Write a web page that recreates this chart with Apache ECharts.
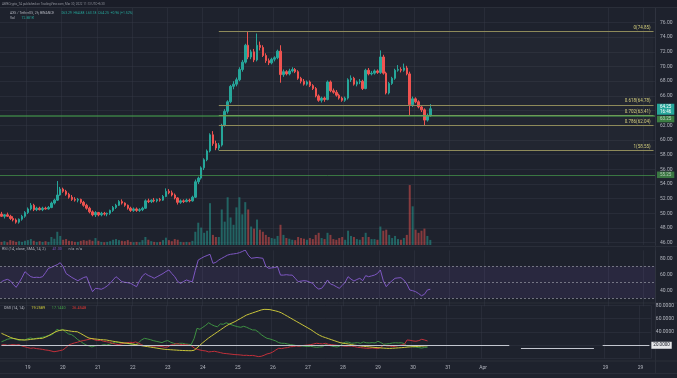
<!DOCTYPE html>
<html><head><meta charset="utf-8">
<script src="https://cdn.jsdelivr.net/npm/echarts@6/dist/echarts.min.js"></script>
<style>html,body{margin:0;padding:0;background:#1e222d;}#c{width:677px;height:378px;}</style>
</head><body><div id="c"></div><script>
// ---- data (AXS/USDT 2h candles) ----
const opens = [49.9,49.6,49.8,49.6,49.3,49.1,48.8,49.2,49.6,50.1,
50.6,51.1,50.5,50.7,50.5,50.7,50.6,50.8,51.4,51.8,
52.5,53.3,53.0,52.6,52.2,51.9,51.8,51.9,51.5,51.1,
50.7,50.2,49.8,50.1,49.8,50.0,49.9,50.0,50.4,50.8,
51.1,51.6,51.4,51.1,50.7,50.4,50.6,50.4,50.5,50.7,
51.7,51.6,51.8,51.7,51.9,51.8,52.3,53.0,52.8,52.5,
52.1,51.5,51.7,51.6,51.8,51.7,52.2,54.3,54.8,56.2,
57.3,58.5,60.7,59.5,58.9,59.3,62.0,63.9,65.2,67.3,
67.6,68.2,69.6,70.6,72.9,71.3,72.0,70.9,72.9,72.6,
71.5,70.8,70.5,71.0,71.2,72.1,68.9,69.3,69.0,69.4,
69.6,69.3,68.4,68.0,67.6,67.9,67.4,67.0,66.0,65.4,
65.7,65.5,67.9,66.7,66.5,66.1,65.7,65.4,65.7,68.2,
68.4,67.6,67.9,68.0,67.0,69.5,69.0,69.1,69.4,69.2,
71.3,69.1,66.4,67.7,68.4,69.5,69.6,69.5,69.8,69.0,
64.8,65.6,65.2,64.5,64.1,62.7,63.29];
const closes = [49.6,49.8,49.6,49.3,49.1,48.8,49.2,49.6,50.1,50.6,
51.1,50.5,50.7,50.5,50.7,50.6,50.8,51.4,51.8,52.5,
53.3,53.0,52.6,52.2,51.9,51.8,51.9,51.5,51.1,50.7,
50.2,49.8,50.1,49.8,50.0,49.9,50.0,50.4,50.8,51.1,
51.6,51.4,51.1,50.7,50.4,50.6,50.4,50.5,50.7,51.7,
51.6,51.8,51.7,51.9,51.8,52.3,53.0,52.8,52.5,52.1,
51.5,51.7,51.6,51.8,51.7,52.2,54.3,54.8,56.2,57.3,
58.5,60.7,59.5,58.9,59.3,62.0,63.9,65.2,67.3,67.6,
68.2,69.6,70.6,72.9,71.3,72.0,70.9,72.9,72.6,71.5,
70.8,70.5,71.0,71.2,72.1,68.9,69.3,69.0,69.4,69.6,
69.3,68.4,68.0,67.6,67.9,67.4,67.0,66.0,65.4,65.7,
65.5,67.9,66.7,66.5,66.1,65.7,65.4,65.7,68.2,68.4,
67.6,67.9,68.0,67.0,69.5,69.0,69.1,69.4,69.2,71.3,
69.1,66.4,67.7,68.4,69.5,69.6,69.5,69.8,69.0,64.8,
65.6,65.2,64.5,64.1,62.7,63.3,64.25];
const highs = [50.2,49.9,50.1,49.8,49.6,49.3,49.3,49.8,50.3,50.8,
51.4,51.3,50.9,50.9,50.9,50.9,51.0,51.6,52.0,54.4,
53.6,53.5,53.2,52.8,52.5,52.2,52.1,52.0,51.7,51.3,
50.9,50.4,50.3,50.2,50.2,50.2,50.1,50.5,51.0,51.3,
51.8,51.9,51.5,51.2,50.9,50.8,50.8,50.7,50.9,51.9,
52.0,51.9,52.1,52.0,52.1,52.5,53.4,53.3,53.1,52.7,
52.2,51.9,51.9,52.0,52.0,52.4,54.6,55.0,56.4,57.5,
58.7,60.9,61.2,59.9,59.6,62.2,64.2,65.4,67.5,68.0,
68.5,69.9,70.9,73.1,74.75,72.3,72.4,74.5,73.4,72.9,
71.8,71.1,71.2,71.4,72.3,72.9,69.6,69.5,69.7,69.9,
69.8,69.5,68.6,68.3,68.1,68.1,67.6,67.2,66.2,65.9,
65.9,68.1,68.1,67.0,66.8,66.3,65.9,65.9,68.4,68.8,
68.6,68.1,68.3,68.2,69.7,69.8,69.4,69.6,69.6,72.2,
71.6,69.3,67.9,68.6,69.7,70.2,69.9,70.4,70.1,69.3,
65.9,65.8,65.4,64.7,64.3,63.6,64.88];
const lows = [49.5,49.3,49.5,49.1,48.9,48.6,48.6,49.0,49.4,49.9,
50.4,50.3,50.3,50.4,50.3,50.5,50.5,50.7,51.2,51.7,
52.4,52.8,52.4,52.0,51.7,51.6,51.5,51.3,50.9,50.5,
50.0,49.6,49.5,49.6,49.6,49.7,49.6,49.8,50.2,50.6,
51.0,51.2,50.9,50.5,50.2,50.2,50.2,50.2,50.3,50.6,
51.4,51.4,51.5,51.5,51.6,51.7,52.2,52.6,52.3,51.9,
51.2,51.3,51.4,51.5,51.5,51.6,52.1,54.0,54.6,55.9,
57.1,58.3,59.2,58.6,58.6,59.1,61.8,63.6,65.0,66.9,
67.3,68.0,69.3,70.4,71.0,71.0,70.6,70.7,72.2,71.3,
70.5,70.2,70.3,70.7,71.0,67.8,68.6,68.8,68.8,69.2,
69.1,68.2,67.7,67.4,67.4,67.2,66.8,65.8,65.2,65.1,
65.2,65.4,66.5,66.3,65.9,65.5,65.2,65.2,65.5,67.9,
67.4,67.3,67.6,66.8,66.9,68.8,68.8,68.9,69.0,69.0,
68.9,66.2,66.2,67.5,68.2,69.3,69.2,69.3,68.8,63.4,
64.5,65.0,64.3,63.8,62.0,62.5,63.18];
const volumes = [45,55,40,70,60,45,55,45,60,70,
85,60,45,55,45,55,45,115,90,190,
130,75,85,60,55,45,45,60,70,60,
75,60,100,60,45,40,45,55,75,85,
70,60,55,70,45,40,45,40,70,115,
75,55,45,40,45,70,105,70,55,85,
75,45,40,45,40,60,190,320,250,175,
205,600,145,115,115,510,335,685,395,290,
540,685,440,615,510,265,235,365,220,190,
145,115,100,90,130,290,145,100,90,75,
70,115,100,90,75,100,85,145,175,100,
85,175,145,85,75,100,115,75,205,130,
115,85,75,115,175,115,85,85,75,265,
205,220,145,100,130,85,75,100,145,860,
555,220,175,205,235,130,72.881];
const rsi = [50.8,52.5,53.7,52.0,47.5,43.7,49.5,56.0,63.3,60.0,
57.0,56.0,56.3,56.0,57.0,62.0,67.5,68.7,70.5,72.0,
74.5,69.5,61.0,58.5,56.0,54.0,52.0,54.0,56.0,57.0,
47.0,38.3,42.5,42.0,41.3,43.0,45.5,48.7,53.0,57.0,
54.0,50.8,50.0,49.5,48.7,46.5,44.5,52.0,58.0,61.0,
58.5,57.0,55.0,57.0,59.0,61.0,63.5,65.4,61.0,57.0,
51.0,48.7,51.0,52.9,51.5,50.8,65.0,77.9,80.0,82.0,
83.5,85.0,73.7,75.0,77.9,80.0,82.0,84.0,85.0,85.5,
86.0,87.0,88.5,90.4,84.0,80.0,80.5,81.0,80.5,80.0,
70.0,67.5,68.0,68.5,69.5,59.0,59.0,59.5,59.0,59.0,
55.0,50.8,51.5,52.0,51.6,50.0,48.7,44.0,41.6,42.5,
47.0,52.9,48.0,46.6,44.5,42.5,46.0,50.0,57.0,54.0,
51.6,53.5,55.0,52.0,58.3,57.0,58.0,59.0,61.0,65.4,
52.0,44.5,48.7,52.0,55.0,55.5,55.8,52.9,48.0,40.4,
39.5,38.3,36.0,33.2,35.0,40.4,41.3];
const adx = [37.9,36,34,32,30.4,29.5,28.5,28,27.9,28.2,
28.8,29.3,29.8,30.2,30.4,32,34,36.5,39,41,
42.5,42.9,42.5,41.8,41,40.6,40.3,38,35.5,33,
30.8,30,29.5,29,28.5,28.2,27.9,27,26.2,25.5,
24.8,24.2,23.6,23.1,22.5,21.8,21,20.2,19.4,18.7,
18,17.3,16.6,15.9,15.2,14.5,13.9,13.6,13.3,13,
12.7,12.4,12.2,12,11.9,11.8,12.5,16,20,24,
27.5,31,34,37,40,43,46,49,51.5,53.5,
55.5,58,60.5,63,65.4,67,68.5,70,71.5,73,
73.9,73.8,73.5,72.5,71.5,70.3,68.5,66,63.5,61,
58.5,56,53.5,51,48.5,46,43.5,40.5,37.5,35,
33,31.5,30,28.5,27,25.5,24,23.2,22.5,21.8,
21,20.2,19.6,19,18.5,18,17.6,17.2,16.8,16.4,
16,15.7,15.4,15.3,15.5,15.8,16.1,16.4,16.8,17.2,
17.6,17.8,18.1,18.4,18.7,19.0,19.26];
const plusDI = [25.3,27,29,30,30.4,29,27.5,28.5,27.9,30,
31,29.5,30.5,31,32,33,34.5,35.4,38,44,
42,43.9,40,37,36,33,29,26,23,20.4,
19,17.5,19,20,19.5,21,20.4,21.5,23,25,
24.5,23.5,22.5,22.9,22,21.5,21,24,28,30.4,
29.5,28.5,27,26,25,24,26,27,24.5,23,
21.5,22.9,23,22,21.5,21,30,45.4,44,47,
50,53.8,51,49,47.8,52,51.5,53.8,52,50.5,
49,47.8,47,48.5,47,45,43,42.9,40,36,
33,30.4,29.5,28,26.5,24,23,22.9,22,21,
20.5,19.5,19,18.9,18.5,18,18.5,17.5,17,17.5,
17.8,21,20,19,18,17.5,19,22.9,25,24.5,
23,23.5,24,23,25,23.8,23.5,24,23.5,26,
24,21.5,22,22.5,23.5,23.8,23.5,23.8,22.5,18.5,
19.5,17.8,17.3,16.5,15.8,16.8,17.14];
const minusDI = [20.4,21,20,20.5,21,20.4,21,19,17.8,16.5,
15.5,16,15,14.5,13.9,13,12.5,11.5,10.3,11,
12,13,16,20.4,22,23.5,24.5,26,27,27.9,
29,30,28,27,27.5,26,25.3,24.5,23,22,
21,22,23,23.8,24.5,24,25,23,21,18.9,
19.5,19,18.5,19,18.5,18,17,17.5,20.4,21,
22.5,21.5,21,21,20.4,19.5,16,14,12.9,12,
11.5,10,10.5,11,10,9,7.9,7.5,7,6.5,
6,5.8,5.4,4.8,5,4.5,4.8,4,3,3.5,
5,7,8,10,12.9,15.5,15,16,16.5,17.8,
18,19,18.5,19.5,20,20.4,21,22,23,22.5,
22,22.9,21.5,21,20.5,20,19.5,19,18.5,18.9,
18.9,18,17,16.5,16,15.5,15.4,16,15.5,15,
17,20.4,19,18.9,18,18.5,19.5,20.4,21,28,
27.5,26.5,26,27,29,27.9,26.45];
const fibNames = ['0','0.618','0.702','0.786','1'];
const fibValues = [74.85,64.78,63.41,62.04,58.55];
const tickCats = ['03-19 00:00','03-20 00:00','03-21 00:00','03-22 00:00','03-23 00:00','03-24 00:00','03-25 00:00','03-26 00:00','03-27 00:00','03-28 00:00','03-29 00:00','03-30 00:00','03-31 00:00','04-01 00:00','04-04 12:00','04-05 12:00'];
const tickLabels = ['19','20','21','22','23','24','25','26','27','28','29','30','31','Apr','29','29'];
const priceTicks = {min:46, max:76, step:2};

// ---- axis slots (2h bars, incl. empty future space) ----
const pad = n => (n < 10 ? '0' : '') + n;
const startMs = Date.UTC(2022, 2, 18, 6);
const categories = [];
for (let k = 0; k < 223; k++) {
  const d = new Date(startMs + k * 7200000);
  categories.push(pad(d.getUTCMonth() + 1) + '-' + pad(d.getUTCDate()) + ' ' + pad(d.getUTCHours()) + ':00');
}
const tickMap = {};
tickCats.forEach((c, k) => tickMap[c] = tickLabels[k]);
const isTick = (i, v) => tickMap[categories[i]] !== undefined;
const lastCat = categories.length - 1;
const fibStart = categories.indexOf('03-24 10:00');

const UP = '#26a69a', DOWN = '#ef5350';
const FONT = 'Roboto';
const axisTxt = '#b2b5be';
const gridCol = 'rgba(54,58,70,0.45)';

const candleData = opens.map((o, k) => [o, closes[k], lows[k], highs[k]]);
const volData = volumes.map((v, k) => ({value: v, itemStyle: {color: closes[k] >= opens[k] ? 'rgba(38,166,154,0.5)' : 'rgba(239,83,80,0.5)'}}));

function xAx(gi, showLabels, showSplit) {
  return {
    type: 'category', gridIndex: gi, data: categories, boundaryGap: true,
    axisLine: {show: false}, axisTick: {show: false},
    axisLabel: {show: showLabels, interval: isTick, formatter: v => tickMap[v] || '', color: axisTxt, fontSize: 5, fontFamily: FONT, margin: 7},
    splitLine: {show: showSplit, interval: isTick, lineStyle: {color: gridCol, width: 1}}
  };
}

const fibLines = fibValues.map((v, k) => [
  {coord: [fibStart, v], lineStyle: {color: '#8e8a5a', width: 1, type: 'solid'},
   label: {show: true, position: 'insideEndTop', distance: [3, 1], formatter: fibNames[k] + '(' + v.toFixed(2) + ')', color: '#d3cd7c', fontSize: 4.5, fontFamily: FONT}},
  {coord: [lastCat, v]}
]);

const boxLabel = (bg, txt, off) => ({show: true, position: 'end', distance: 2, formatter: txt, color: '#ffffff', backgroundColor: bg,
  fontSize: 4.5, fontFamily: FONT, padding: [1, 3, 1, 3], lineHeight: 4.5, offset: off || [0, 0]});

const option = {
  backgroundColor: '#1e222d',
  animation: false,
  grid: [
    {left: 0, right: 22, top: 22.5, height: 220.2},
    {left: 0, right: 22, top: 8, height: 237},
    {left: 0, right: 22, top: 250.3, height: 56},
    {left: 0, right: 22, top: 305.3, height: 53.3}
  ],
  xAxis: [xAx(0, false, false), xAx(1, false, true), xAx(2, false, true), xAx(3, true, true)],
  yAxis: [
    {type: 'value', gridIndex: 0, position: 'right', min: priceTicks.min, max: priceTicks.max, interval: priceTicks.step,
     axisLine: {show: false}, axisTick: {show: false},
     axisLabel: {color: axisTxt, fontSize: 5, fontFamily: FONT, margin: 5, formatter: v => v.toFixed(2)},
     splitLine: {lineStyle: {color: gridCol}}},
    {type: 'value', gridIndex: 1, min: 0, max: 3400, show: false, splitLine: {show: false}},
    {type: 'value', gridIndex: 2, position: 'right', min: 20, max: 90, interval: 20,
     axisLine: {show: false}, axisTick: {show: false}, splitLine: {show: false},
     axisLabel: {color: axisTxt, fontSize: 5, fontFamily: FONT, margin: 5, showMinLabel: false, showMaxLabel: false, formatter: v => v.toFixed(2)}},
    {type: 'value', gridIndex: 3, position: 'right', min: 0, max: 80, interval: 20,
     axisLine: {show: false}, axisTick: {show: false}, splitLine: {lineStyle: {color: gridCol}},
     axisLabel: {color: axisTxt, fontSize: 5, fontFamily: FONT, margin: 5, showMinLabel: false, showMaxLabel: true, formatter: v => v === 20 ? '' : v.toFixed(4)}}
  ],
  series: [
    {type: 'bar', xAxisIndex: 1, yAxisIndex: 1, data: volData, barWidth: 2, silent: true, z: 1},
    {type: 'candlestick', xAxisIndex: 0, yAxisIndex: 0, data: candleData, barWidth: 2, z: 3,
     itemStyle: {color: UP, color0: DOWN, borderColor: UP, borderColor0: DOWN, borderWidth: 1},
     markArea: {silent: true, itemStyle: {color: 'rgba(255,255,255,0.018)'}, data: [[{coord: [fibStart, fibValues[0]]}, {coord: [lastCat, fibValues[4]]}]]},
     markLine: {silent: true, symbol: ['none', 'none'], animation: false, label: {show: false},
      data: fibLines.concat([
        {yAxis: 63.25, lineStyle: {color: '#4caf50', width: 1.6, type: 'solid', opacity: 0.65}, label: boxLabel('#4caf50', '63.25', [0, 3])},
        {yAxis: 55.25, lineStyle: {color: '#4caf50', width: 1, type: 'solid', opacity: 0.6}, label: boxLabel('#4caf50', '55.25')},
        {yAxis: 64.25, lineStyle: {color: 'rgba(38,166,154,0.0)', width: 1, type: 'solid'}, label: boxLabel(UP, '64.25\n16:46', [0, 0.5])}
      ])}
    },
    {type: 'line', xAxisIndex: 2, yAxisIndex: 2, data: rsi, showSymbol: false, lineStyle: {color: '#7e57c2', width: 1}, z: 3,
     markArea: {silent: true, itemStyle: {color: 'rgba(126,87,194,0.12)'}, data: [[{yAxis: 30}, {yAxis: 70}]]},
     markLine: {silent: true, symbol: ['none', 'none'], label: {show: false},
      lineStyle: {color: 'rgba(178,181,190,0.55)', type: [2, 2], width: 1},
      data: [{yAxis: 70}, {yAxis: 50}, {yAxis: 30}]}},
    {type: 'line', xAxisIndex: 3, yAxisIndex: 3, data: adx, showSymbol: false, lineStyle: {color: '#c9c43a', width: 1}, z: 4,
     markLine: {silent: true, symbol: ['none', 'none'], label: {show: false},
      lineStyle: {color: '#c3c6cf', type: 'solid', width: 1},
      data: [
        [{coord: [0, 20]}, {coord: [174, 20]}],
        [{coord: [178, 15.5]}, {coord: [203, 15.5]}],
        [{coord: [206, 20], label: {show: true, position: 'end', distance: 2, formatter: '20.0000', color: '#131722', backgroundColor: '#e6e7ea', fontSize: 4.5, fontFamily: FONT, padding: [1, 2, 1, 2]}}, {coord: [lastCat, 20]}]
      ]}},
    {type: 'line', xAxisIndex: 3, yAxisIndex: 3, data: plusDI, showSymbol: false, lineStyle: {color: '#3e9142', width: 1}, z: 3},
    {type: 'line', xAxisIndex: 3, yAxisIndex: 3, data: minusDI, showSymbol: false, lineStyle: {color: '#c2303a', width: 1}, z: 3}
  ],
  graphic: [
    {type: 'rect', z: -1, shape: {x: 0, y: 0, width: 677, height: 7.5}, style: {fill: '#1a1d28'}},
    {type: 'line', shape: {x1: 0, y1: 7.5, x2: 677, y2: 7.5}, style: {stroke: '#2a2e39', lineWidth: 1}},
    {type: 'line', shape: {x1: 0, y1: 246.5, x2: 677, y2: 246.5}, style: {stroke: '#2a2e39', lineWidth: 1}},
    {type: 'line', shape: {x1: 0, y1: 303, x2: 677, y2: 303}, style: {stroke: '#2a2e39', lineWidth: 1}},
    {type: 'line', shape: {x1: 0, y1: 361, x2: 677, y2: 361}, style: {stroke: '#2a2e39', lineWidth: 1}},
    {type: 'line', shape: {x1: 0, y1: 373.5, x2: 677, y2: 373.5}, style: {stroke: '#2a2e39', lineWidth: 1}},
    {type: 'line', shape: {x1: 655.5, y1: 8, x2: 655.5, y2: 373}, style: {stroke: '#2a2e39', lineWidth: 1}},
    {type: 'text', x: 2, y: 3.8, style: {text: 'AWBCrypto_TA published on TradingView.com, Mar 30, 2022 11:13 UTC+5:30', fill: '#8f929b', fontSize: 3, fontFamily: FONT, verticalAlign: 'middle'}},
    {type: 'text', x: 10, y: 12.7, style: {text: '{a|AXS / TetherUS, 2h, BINANCE}  {b|O63.29  H64.88  L63.18  C64.25  +0.96 (+1.52%)}', verticalAlign: 'middle',
      rich: {a: {fill: '#b2b5be', fontSize: 3.4, fontFamily: FONT}, b: {fill: UP, fontSize: 3.4, fontFamily: FONT}}}},
    {type: 'text', x: 10, y: 18.3, style: {text: '{a|Vol}  {b|72.881K}', verticalAlign: 'middle',
      rich: {a: {fill: '#b2b5be', fontSize: 3.4, fontFamily: FONT}, b: {fill: UP, fontSize: 3.4, fontFamily: FONT}}}},
    {type: 'text', x: 2, y: 249.5, style: {text: '{a|RSI (14, close, SMA, 14, 2)}  {b|41.30}  {a|n/a  n/a}', verticalAlign: 'middle',
      rich: {a: {fill: '#b2b5be', fontSize: 3.8, fontFamily: FONT}, b: {fill: '#7e57c2', fontSize: 3.8, fontFamily: FONT}}}},
    {type: 'text', x: 4, y: 308.3, style: {text: '{a|DMI (14, 14)}  {y|19.2589}  {g|17.1440}  {r|26.4548}', verticalAlign: 'middle',
      rich: {a: {fill: '#b2b5be', fontSize: 3.8, fontFamily: FONT}, y: {fill: '#d6d23e', fontSize: 3.8, fontFamily: FONT},
             g: {fill: '#43a047', fontSize: 3.8, fontFamily: FONT}, r: {fill: '#e53935', fontSize: 3.8, fontFamily: FONT}}}}
  ]
};
const chart = echarts.init(document.getElementById('c'));
chart.setOption(option);
</script></body></html>
